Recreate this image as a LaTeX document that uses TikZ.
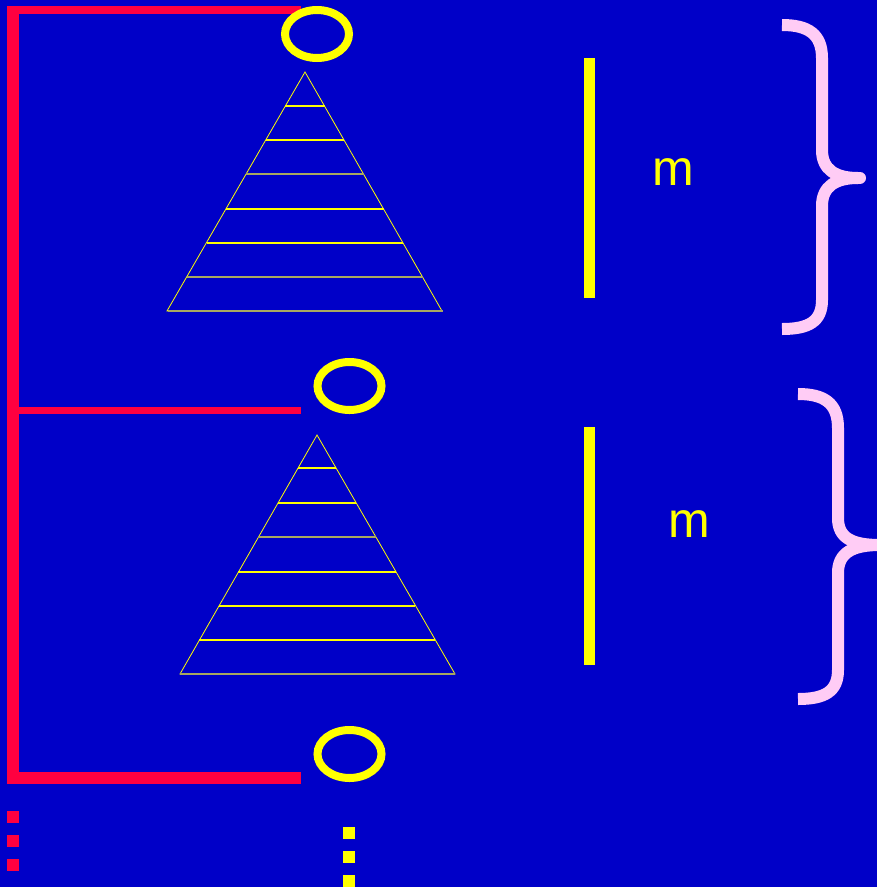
\documentclass[tikz,border=0pt]{standalone}
\usepackage{fontspec}
\setmainfont{Liberation Sans}
\usetikzlibrary{shapes.geometric}
\definecolor{bgblue}{HTML}{0000C8}
\definecolor{redline}{HTML}{FF0040}
\definecolor{yel}{HTML}{FFFF00}
\definecolor{olive}{HTML}{A8A860}
\definecolor{pinkb}{HTML}{FFCCF5}
\begin{document}
\begin{tikzpicture}[x=1pt,y=-1pt,
  ring/.style={ellipse,draw=yel,line width=8pt,minimum width=64pt,minimum height=48pt,inner sep=0pt},
  redbar/.style={draw=redline,line width=#1},
  tri/.style={draw=yel,line width=0.8pt},
  rung/.style={draw=#1,line width=2pt},
  ybar/.style={draw=yel,line width=11pt},
  brace/.style={draw=pinkb,line width=12pt},
  lab/.style={text=yel,font=\fontsize{50}{50}\selectfont,inner sep=0pt},
  rdot/.style={fill=redline,minimum size=12pt,inner sep=0pt},
  ydot/.style={fill=yel,minimum size=12pt,inner sep=0pt}]
\fill[bgblue] (0,0) rectangle (877,887);
\useasboundingbox (0,0) rectangle (877,887);

% red tree
\coordinate (t0) at (13,6);
\coordinate (t1) at (13,10);
\coordinate (t1e) at (301,10);
\coordinate (t2) at (13,410.5);
\coordinate (t2e) at (301,410.5);
\coordinate (t3) at (13,778);
\coordinate (t3e) at (301,778);
\draw[redbar=12pt] (t0) -- (13,784);
\draw[redbar=8pt] (t1) -- (t1e);
\draw[redbar=7.5pt] (t2) -- (t2e);
\draw[redbar=12pt] (t3) -- (t3e);

% rings
\node[ring] (r1) at (317,34) {};
\node[ring] (r2) at (349.5,386) {};
\node[ring] (r3) at (349.5,754) {};

% triangle 1
\coordinate (a1) at (305,72);
\draw[tri] (a1) -- (167,311) -- (442,311) -- cycle;
\foreach \y/\c in {106/yel,140/yel,174/olive,209/yel,243/yel,277/olive,311/olive}{
  \pgfmathsetmacro{\dx}{(\y-72)/239*137.5}
  \draw[rung=\c] (305-\dx,\y) -- (305+\dx,\y);
}
% triangle 2
\coordinate (a2) at (317,435);
\draw[tri] (a2) -- (180,674) -- (455,674) -- cycle;
\foreach \y/\c in {468/yel,503/yel,537/olive,572/yel,606/yel,640/yel,674/olive}{
  \pgfmathsetmacro{\dx}{(\y-435)/239*137.5}
  \draw[rung=\c] (317-\dx,\y) -- (317+\dx,\y);
}

% yellow bars
\coordinate (b1t) at (589,58);
\coordinate (b1b) at (589,298);
\coordinate (b2t) at (589,427);
\coordinate (b2b) at (589,665);
\draw[ybar] (b1t) -- (b1b);
\draw[ybar] (b2t) -- (b2b);

% labels
\node[lab] (m1) at (673,172) {m};
\node[lab] (m2) at (689,524) {m};

% braces
\draw[brace] (782,25) .. controls (808,25) and (822,34) .. (822,58) -- (822,150)
  .. controls (822,170) and (836,178) .. (858,178);
\draw[brace,line cap=round] (858,178) -- (860,178);
\draw[brace] (858,178) .. controls (836,178) and (822,186) .. (822,206) -- (822,300)
  .. controls (822,322) and (808,329) .. (782,329);
\draw[brace] (798,394) .. controls (824,394) and (838,403) .. (838,428) -- (838,518)
  .. controls (838,538) and (852,545) .. (880,545);
\draw[brace] (880,545) .. controls (852,545) and (838,553) .. (838,573) -- (838,670)
  .. controls (838,692) and (824,699) .. (798,699);

% continuation dots
\node[rdot] (rd1) at (13,817) {};
\node[rdot] (rd2) at (13,841) {};
\node[rdot] (rd3) at (13,865) {};
\node[ydot] (yd1) at (349,833) {};
\node[ydot] (yd2) at (349,857) {};
\node[ydot] (yd3) at (349,881) {};
\end{tikzpicture}
\end{document}
